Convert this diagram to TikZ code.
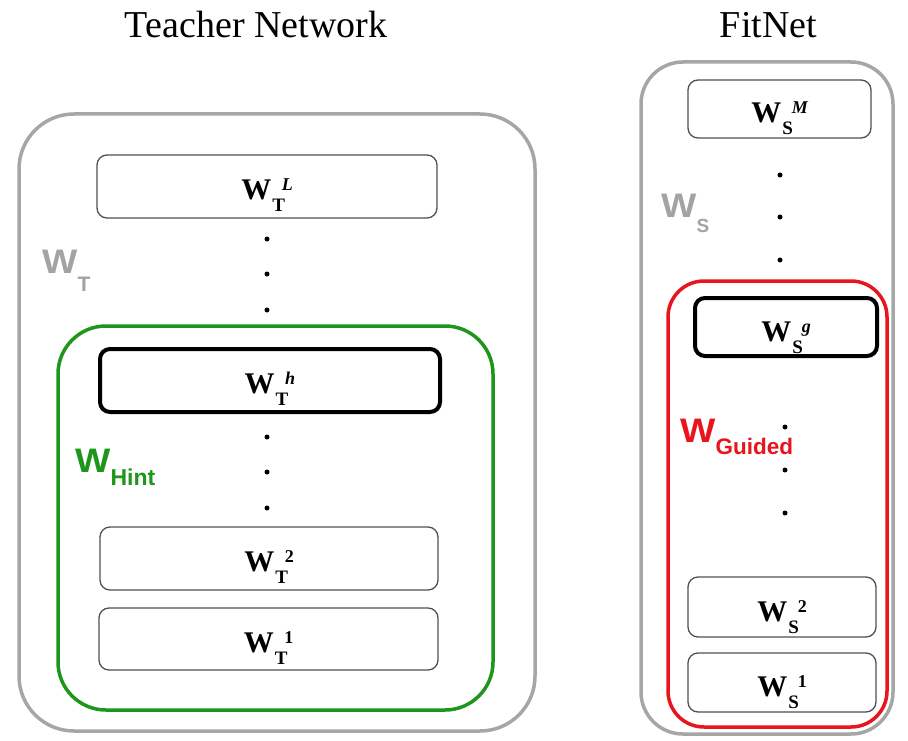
\documentclass[tikz,border=0pt]{standalone}
\usepackage{fontspec}
\usepackage{graphicx}
\setmainfont{Liberation Serif}
\setsansfont{Liberation Sans}
\definecolor{outergray}{HTML}{A6A6A6}
\definecolor{labgray}{HTML}{A3A3A3}
\definecolor{hintgreen}{HTML}{1E951B}
\definecolor{guidedred}{HTML}{E8141E}
\definecolor{thinborder}{HTML}{505050}
% layer label: #1 subscript, #2 superscript (already styled)
\newcommand\lyr[2]{{\fontsize{30}{30}\selectfont\bfseries W}\kern1pt\rlap{\raisebox{-12pt}{\fontsize{19}{19}\selectfont\bfseries #1}}\kern9.5pt\raisebox{9pt}{\fontsize{18}{18}\selectfont\bfseries #2}}
\newcommand\slab[3]{{\fontsize{34}{34}\selectfont\sffamily\bfseries\scalebox{1.1}[1]{W}}\raisebox{-#3}{\fontsize{#2}{#2}\selectfont\sffamily\bfseries #1}}
\begin{document}
\begin{tikzpicture}[x=1pt,y=-1pt,
  layer/.style={draw=thinborder, line width=1.3pt, rounded corners=10pt, inner sep=0pt, fill=white},
  hlayer/.style={draw=black, line width=4pt, rounded corners=10pt, inner sep=0pt, fill=white},
  dotnode/.style={circle, fill=black, inner sep=0pt, minimum size=5pt},
  title/.style={font=\fontsize{38}{40}\selectfont, anchor=base, inner sep=0pt},
  lab/.style={anchor=base, inner sep=0pt}
]
\useasboundingbox (0,0) rectangle (908,741);

% titles
\node[title] (tteacher) at (256,38) {Teacher Network};
\node[title] (tfitnet) at (768.5,38) {FitNet};

% teacher containers
\node[draw=outergray, line width=3.5pt, rounded corners=55pt, minimum width=516pt, minimum height=617pt, inner sep=0pt] (teacher) at (277,422.5) {};
\node[draw=hintgreen, line width=3.5pt, rounded corners=48pt, minimum width=435pt, minimum height=384pt, inner sep=0pt] (hint) at (275.5,518) {};

% teacher layers
\node[layer, minimum width=340pt, minimum height=63pt] (TL) at (267,186.5) {};
\node[hlayer, minimum width=340pt, minimum height=63pt] (Th) at (270,380.5) {};
\node[layer, minimum width=338pt, minimum height=63pt] (T2) at (269,558.5) {};
\node[layer, minimum width=339pt, minimum height=62pt] (T1) at (268.5,639) {};
\node[lab] (TLl) at ([yshift=-13pt]TL.center) {\lyr{T}{\itshape L}};
\node[lab] (Thl) at ([yshift=-13pt]Th.center) {\lyr{T}{\itshape h}};
\node[lab] (T2l) at ([yshift=-13pt]T2.center) {\lyr{T}{2}};
\node[lab] (T1l) at ([yshift=-13pt]T1.center) {\lyr{T}{1}};

% teacher dots
\foreach \y [count=\i] in {239,274,310,437,472,508} {
  \node[dotnode] (td\i) at (267,\y) {};
}

% teacher labels
\node[anchor=base west, inner sep=0pt, text=labgray] (WT) at (42,273) {\slab{T}{21}{18pt}};
\node[anchor=base west, inner sep=0pt, text=hintgreen] (WH) at (75,472) {\slab{Hint}{23}{13pt}};

% FitNet containers
\node[draw=outergray, line width=3.5pt, rounded corners=42pt, minimum width=252pt, minimum height=672pt, inner sep=0pt] (fitnet) at (767,398) {};
\node[draw=guidedred, line width=3.5pt, rounded corners=36pt, minimum width=219pt, minimum height=446pt, inner sep=0pt] (guided) at (777.5,504) {};

% FitNet layers
\node[layer, minimum width=183pt, minimum height=58pt] (SM) at (779.5,109) {};
\node[hlayer, minimum width=182pt, minimum height=58pt] (Sg) at (786,327) {};
\node[layer, minimum width=188pt, minimum height=60pt] (S2) at (782,607) {};
\node[layer, minimum width=188pt, minimum height=59pt] (S1) at (782,682.5) {};
\node[lab] (SMl) at ([yshift=-14pt]SM.center) {\lyr{S}{\itshape M}};
\node[lab] (Sgl) at ([yshift=-14pt]Sg.center) {\lyr{S}{\itshape g}};
\node[lab] (S2l) at ([yshift=-14pt]S2.center) {\lyr{S}{2}};
\node[lab] (S1l) at ([yshift=-14pt]S1.center) {\lyr{S}{1}};

% FitNet dots
\foreach \y [count=\i] in {175,217,260} {
  \node[dotnode] (sd\i) at (780,\y) {};
}
\foreach \y [count=\i] in {427,470,513} {
  \node[dotnode] (gd\i) at (785,\y) {};
}

% FitNet labels
\node[anchor=base west, inner sep=0pt, text=labgray] (WS) at (661,218) {\slab{S}{19}{15pt}};
\node[anchor=base west, inner sep=0pt, text=guidedred] (WG) at (680,442) {\slab{Guided}{22.5}{12pt}};
\end{tikzpicture}
\end{document}
